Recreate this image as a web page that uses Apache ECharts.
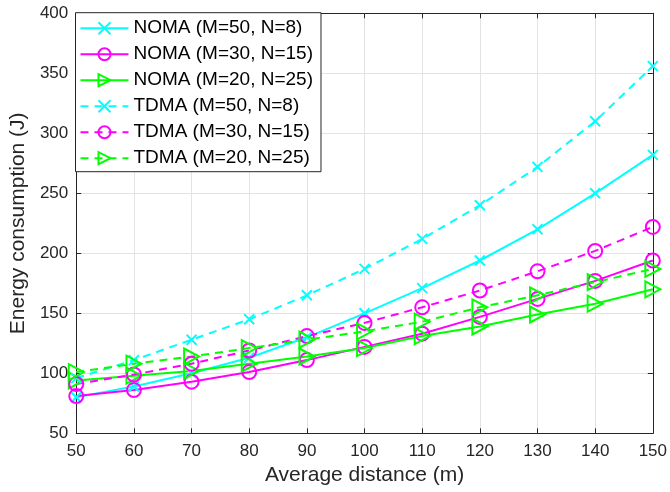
<!DOCTYPE html>
<html>
<head>
<meta charset="utf-8">
<script src="https://cdn.jsdelivr.net/npm/echarts@6/dist/echarts.min.js"></script>
<style>html,body{margin:0;padding:0;background:#fff;}#c{width:670px;height:492px;}</style>
</head>
<body>
<div id="c"></div>
<script>
var distances = [50, 60, 70, 80, 90, 100, 110, 120, 130, 140, 150];
var nomaM50 = [80, 89, 100, 113, 130, 150, 171, 194, 220, 250, 282];
var nomaM30 = [81, 86, 93, 101, 111, 122, 133, 147, 162, 177, 194];
var nomaM20 = [94, 98, 102, 108, 114, 121, 131, 139, 149, 158, 170];
var tdmaM50 = [96, 111, 128, 145, 165, 187, 212, 240, 272, 310, 356];
var tdmaM30 = [91, 99, 108, 119, 131, 142, 155, 169, 185, 202, 222];
var tdmaM20 = [101, 108, 114, 121, 128, 135, 143, 155, 165, 176, 187];
var seriesNames = ['NOMA (M=50, N=8)', 'NOMA (M=30, N=15)', 'NOMA (M=20, N=25)',
                   'TDMA (M=50, N=8)', 'TDMA (M=30, N=15)', 'TDMA (M=20, N=25)'];
var xTicks = [50, 60, 70, 80, 90, 100, 110, 120, 130, 140, 150];
var yTicks = [50, 100, 150, 200, 250, 300, 350, 400];

var FONT = 'Liberation Sans, Arial, Helvetica, sans-serif';
var AX = '#262626';
var CROSS = 'path://M0,0L10,10M10,0L0,10';
var TRI = 'path://M0,0L9,5L0,10Z';

function pairs(v){ return distances.map(function(d,i){ return [d, v[i]]; }); }
function mk(name, data, color, sym, size, dashed){
  return {
    name: name, type: 'line', data: pairs(data),
    symbol: sym, symbolSize: size, showSymbol: true,
    lineStyle: {color: color, width: 2, type: dashed ? [8, 6] : 'solid'},
    itemStyle: {color: 'rgba(0,0,0,0)', borderColor: color, borderWidth: 2},
    emphasis: {disabled: true}, animation: false, z: 3
  };
}
var chart = echarts.init(document.getElementById('c'));
chart.setOption({
  animation: false,
  grid: {left: 72.5, right: 12.2, top: 13.3, bottom: 58.7},
  legend: {
    orient: 'vertical', left: 75.5, top: 12.7, padding: [6, 8, 4, 4],
    backgroundColor: '#fff', borderColor: AX, borderWidth: 1,
    itemWidth: 48, itemHeight: 15, itemGap: 7,
    textStyle: {fontFamily: FONT, fontSize: 19, color: '#000', lineHeight: 19},
    data: seriesNames
  },
  xAxis: [{
    type: 'value', min: 50, max: 150, interval: 10,
    name: 'Average distance (m)', nameLocation: 'middle', nameGap: 31,
    nameTextStyle: {fontFamily: FONT, fontSize: 21, color: AX},
    axisLine: {lineStyle: {color: AX, width: 1}},
    axisTick: {inside: true, length: 5, lineStyle: {color: AX}},
    axisLabel: {fontFamily: FONT, fontSize: 17, color: AX, margin: 10},
    splitLine: {show: true, lineStyle: {color: '#e3e3e3', width: 1}}
  }, {
    type: 'value', position: 'top', min: 50, max: 150, interval: 10,
    axisLine: {show: true, lineStyle: {color: AX}},
    axisTick: {inside: true, length: 5, lineStyle: {color: AX}},
    axisLabel: {show: false}, splitLine: {show: false}
  }],
  yAxis: [{
    type: 'value', min: 50, max: 400, interval: 50,
    name: 'Energy consumption (J)', nameLocation: 'middle', nameGap: 40,
    nameTextStyle: {fontFamily: FONT, fontSize: 21, color: AX},
    axisLine: {show: true, lineStyle: {color: AX, width: 1}},
    axisTick: {show: true, inside: true, length: 5, lineStyle: {color: AX}},
    axisLabel: {fontFamily: FONT, fontSize: 17, color: AX, margin: 8},
    splitLine: {show: true, lineStyle: {color: '#e3e3e3', width: 1}}
  }, {
    type: 'value', position: 'right', min: 50, max: 400, interval: 50,
    axisLine: {show: true, lineStyle: {color: AX}},
    axisTick: {show: true, inside: true, length: 5, lineStyle: {color: AX}},
    axisLabel: {show: false}, splitLine: {show: false}
  }],
  series: [
    mk(seriesNames[0], nomaM50, '#00FFFF', CROSS, 10, false),
    mk(seriesNames[1], nomaM30, '#FF00FF', 'circle', 14, false),
    mk(seriesNames[2], nomaM20, '#00FF00', TRI, [15, 16], false),
    mk(seriesNames[3], tdmaM50, '#00FFFF', CROSS, 10, true),
    mk(seriesNames[4], tdmaM30, '#FF00FF', 'circle', 14, true),
    mk(seriesNames[5], tdmaM20, '#00FF00', TRI, [15, 16], true)
  ]
});
</script>
</body>
</html>
